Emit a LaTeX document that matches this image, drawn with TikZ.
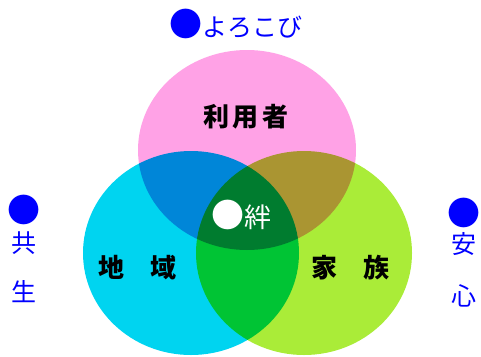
\documentclass[tikz,border=0pt]{standalone}
\usepackage{fontspec}
\setmainfont{Noto Sans CJK JP}
\definecolor{ringpink}{RGB}{255,162,230}
\definecolor{ringcyan}{RGB}{0,212,240}
\definecolor{ringgreen}{RGB}{170,236,56}
\definecolor{markblue}{RGB}{0,0,255}
\newcommand{\bigdot}{{\fontsize{33}{33}\selectfont ●}}

\begin{document}
\begin{tikzpicture}[x=1pt,y=-1pt,
		ring label/.style={font=\fontsize{26}{26}\selectfont\bfseries,
			text=black,inner sep=0pt},
		side label/.style={font=\fontsize{25}{25}\selectfont,
			text=markblue,inner sep=0pt},
		center label/.style={font=\fontsize{27}{27}\selectfont,
			text=white,inner sep=0pt}]
	\useasboundingbox (0,0) rectangle (481,356);
	
	% the three rings, multiplied where they overlap
	\begin{scope}[blend group=multiply]
		\fill[ringpink] (247,150) ellipse [x radius=109pt, y radius=100pt];
		\fill[ringcyan] (191,253) ellipse [x radius=108pt, y radius=102pt];
		\fill[ringgreen] (304,253) ellipse [x radius=108pt, y radius=102pt];
	\end{scope}
	
	\node[ring label] (user) at (246,117) {利\hspace{4pt}用\hspace{4pt}者};
	\node[ring label] (area) at (137,268) {地　域};
	\node[ring label] (family) at (350,268) {家　族};
	\node[center label] (bond) at (241,215) {\bigdot 絆};
	
	\node[side label] (joy) at (236,24) {\bigdot よろこび};
	\node[side label] (dotL) at (24,210) {\bigdot};
	\node[side label] (kyo) at (24,243) {共};
	\node[side label] (sei) at (24,292) {生};
	\node[side label] (dotR) at (464,213) {\bigdot};
	\node[side label] (an) at (464,244) {安};
	\node[side label] (shin) at (464,296) {心};
\end{tikzpicture}
\end{document}
